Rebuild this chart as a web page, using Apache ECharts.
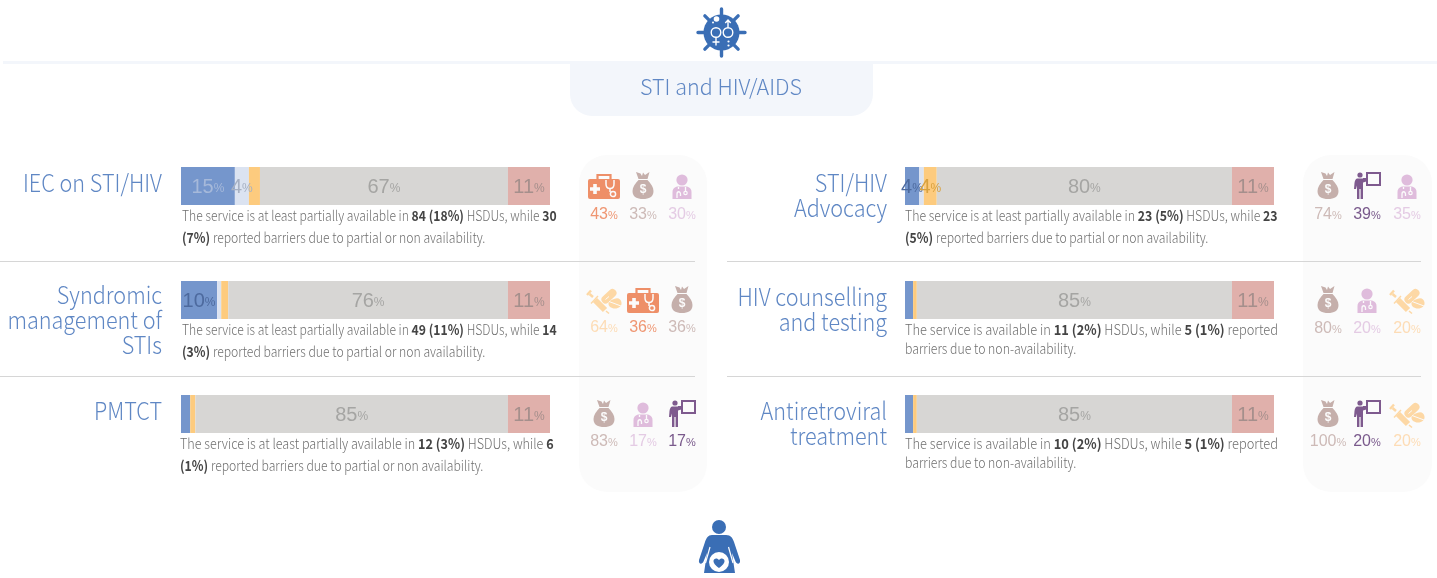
<!DOCTYPE html>
<html>
<head>
<meta charset="utf-8">
<script src="https://cdn.jsdelivr.net/npm/echarts@6/dist/echarts.min.js"></script>
<style>html,body{margin:0;padding:0;background:#fff}#c{width:1437px;height:578px}</style>
</head>
<body>
<div id="c"></div>
<script>
const heading = 'STI and HIV/AIDS';
const categories = [
  'IEC on STI/HIV',
  'Syndromic\nmanagement of\nSTIs',
  'PMTCT',
  'STI/HIV\nAdvocacy',
  'HIV counselling\nand testing',
  'Antiretroviral\ntreatment'
];
// Share of HSDUs in each availability class
const fullyAvailable     = [14.6, 9.8, 2.5, 3.8, 2.2, 2.2];
const partiallyAvailable = [3.8, 1.1, 0, 1.3, 0, 0];
const barrierReported    = [3, 1.9, 1.4, 3.5, 1, 1];
const notAvailable       = [67.2, 75.8, 84.7, 80, 85.4, 85.4];
const noData             = [11.4, 11.4, 11.4, 11.4, 11.4, 11.4];
const descriptions = [
  ['The service is at least partially available in **84 (18%)** HSDUs, while **30**', '**(7%)** reported barriers due to partial or non availability.'],
  ['The service is at least partially available in **49 (11%)** HSDUs, while **14**', '**(3%)** reported barriers due to partial or non availability.'],
  ['The service is at least partially available in **12 (3%)** HSDUs, while **6**', '**(1%)** reported barriers due to partial or non availability.'],
  ['The service is at least partially available in **23 (5%)** HSDUs, while **23**', '**(5%)** reported barriers due to partial or non availability.'],
  ['The service is available in **11 (2%)** HSDUs, while **5 (1%)** reported', 'barriers due to non-availability.'],
  ['The service is available in **10 (2%)** HSDUs, while **5 (1%)** reported', 'barriers due to non-availability.']
];
const barrierKinds = [
  ['kit', 'bag', 'doctor'],
  ['drug', 'kit', 'bag'],
  ['bag', 'doctor', 'teacher'],
  ['bag', 'teacher', 'doctor'],
  ['bag', 'doctor', 'drug'],
  ['bag', 'teacher', 'drug']
];
const barrierValues = [
  [43, 33, 30],
  [64, 36, 36],
  [83, 17, 17],
  [74, 39, 35],
  [80, 20, 20],
  [100, 20, 20]
];

// ---- layout & styles ----
const FONT = '"Noto Sans CJK SC","Noto Sans",sans-serif';
const NUM = '"Liberation Sans",Arial,sans-serif';
const rowY = [167, 281, 395, 167, 281, 395];
const barX = [181, 181, 181, 905, 905, 905];
const labelRight = [162, 162, 162, 887, 887, 887];
const labelY = [183, 295, 411, 183, 297, 411];
const descX = [182, 182, 180, 905, 905, 905];
const descY = [[216, 238], [330, 352], [444, 466], [216, 238], [330, 349], [444, 463]];
const descStretch = [[0.868, 0.872], [0.868, 0.872], [0.9, 0.872], [0.88, 0.872], [0.919, 0.875], [0.919, 0.875]];
const iconX = [[604, 643, 682], [604, 643, 682], [604, 643, 682], [1328, 1367, 1407], [1328, 1367, 1407], [1328, 1367, 1407]];
const iconBase = [172, 286, 400, 172, 286, 400];
const pctY = [215, 328, 442, 215, 329, 442];
const segColors = ['#7596cc', '#dbe3f1', '#fdcb7e', '#d7d6d4', '#e0b0ab'];
const labelColors = [
  ['#a6b9da', '#a6b0c2', '#d8a13f', '#a5a5a3', '#a58f8c'],
  ['#4d6a9e', '#a6b0c2', '#d8a13f', '#a5a5a3', '#a58f8c'],
  ['#4d6a9e', '#a6b0c2', '#d8a13f', '#a5a5a3', '#a58f8c'],
  ['#4d6a9e', '#a6b0c2', '#d8a13f', '#a5a5a3', '#a58f8c'],
  ['#4d6a9e', '#a6b0c2', '#d8a13f', '#a5a5a3', '#a58f8c'],
  ['#4d6a9e', '#a6b0c2', '#d8a13f', '#a5a5a3', '#a58f8c']
];
const iconColor = {kit: '#ee8f68', bag: '#c5afab', doctor: '#dfbcdc', teacher: '#7e5a8e', drug: '#fdd8a5'};
const pctColor = {kit: '#ef9672', bag: '#cdbab7', doctor: '#e4cbe4', teacher: '#7a5a8c', drug: '#fddcb5'};
const PANEL = '#fbfbfb';

// ---- bars ----
const grids = [], xAxes = [], yAxes = [], series = [];
const segs = [fullyAvailable, partiallyAvailable, barrierReported, notAvailable, noData];
const segNames = ['Available', 'Partially available', 'Barriers', 'Not available', 'No data'];
categories.forEach((cat, r) => {
  grids.push({left: barX[r], top: rowY[r], width: 369, height: 38});
  xAxes.push({gridIndex: r, type: 'value', min: 0, max: 100, show: false});
  yAxes.push({gridIndex: r, type: 'category', data: [cat.replace(/\n/g, ' ')], show: false});
  segs.forEach((arr, s) => {
    series.push({
      type: 'bar', name: segNames[s], stack: 'r' + r, xAxisIndex: r, yAxisIndex: r,
      barWidth: '100%', silent: true, animation: false,
      itemStyle: {color: segColors[s]},
      data: [arr[r]],
      label: {
        show: arr[r] >= 3.5, position: 'inside', offset: [0, 1],
        formatter: p => '{n|' + Math.round(p.value) + '}{p|%}',
        rich: {
          n: {fontFamily: NUM, fontSize: 20, color: labelColors[r][s]},
          p: {fontFamily: NUM, fontSize: 12, color: labelColors[r][s], padding: [3, 0, 0, 0]}
        }
      }
    });
  });
});

// ---- decorative shapes ----
const circ = (x, y, r) => `M${x - r} ${y}A${r} ${r} 0 1 0 ${x + r} ${y}A${r} ${r} 0 1 0 ${x - r} ${y}Z`;
const P = (d, fill) => ({type: 'path', shape: {pathData: d}, style: {fill}});
const S = (d, stroke, w, cap) => ({type: 'path', shape: {pathData: d}, style: {fill: 'none', stroke, lineWidth: w, lineCap: cap || 'butt'}});

const iconParts = {
  kit(c) { return [
    P('M-14 7H14Q16 7 16 9V25Q16 27 14 27H-14Q-16 27 -16 25V9Q-16 7 -14 7Z', c),
    S('M-6.5 7V3H6.5V7', c, 2.2),
    S('M-14 17H-4M-9 12V22', PANEL, 3.6),
    S('M2 8V12C2 18 10 18 10 12V8', PANEL, 1.5),
    S('M6 16V20', PANEL, 1.5),
    S(circ(9, 22, 2.6), PANEL, 1.5)
  ]; },
  bag(c) { return [
    P('M-7 0L-2.5 1.5L-1 4L0 0.5L2 3L6.5 0L4.5 7H-4.5Z', c),
    P('M-4.5 8H4.5C8 12 10.5 15 10.5 19C10.5 25 6 27 0 27C-6 27 -10.5 25 -10.5 19C-10.5 15 -8 12 -4.5 8Z', c),
    {type: 'text', style: {text: '$', x: 0, y: 17.5, align: 'center', verticalAlign: 'middle', fill: PANEL, font: 'bold 12px ' + NUM}}
  ]; },
  doctor(c) { return [
    P(circ(0, 8, 5.6), c),
    P('M-9.5 27V20C-9.5 16 -6 14.5 -4 14.5H4C6 14.5 9.5 16 9.5 20V27Z', c),
    S('M-3.5 15V17M-5 26V22C-5 19 -1.5 19 -1.5 22V24', PANEL, 1.3),
    S('M3.5 15V19', PANEL, 1.3),
    S(circ(3.5, 21, 1.7), PANEL, 1.2)
  ]; },
  teacher(c) { return [
    S('M0 1H13V13H0Z', c, 2),
    S('M0 7H-4', c, 2),
    P(circ(-7, 3, 2.6), c),
    P('M-10 6.5H-4L1 6V9L-4 10.5V27H-6.4V17H-7.6V27H-10V13.5L-11 17H-13L-12.5 11Q-12 7 -10 6.5Z', c)
  ]; },
  drug(c) { return [
    S('M-9 14L1 24', c, 6),
    S('M2 25L5 27.5', c, 1.6),
    S('M-11 11L-14.5 8', c, 2.5),
    S('M-17 9L-13 4.5', c, 2.4),
    S('M-13 17.5L-6 10', c, 1.4),
    S('M1.5 13.5L8.5 7', c, 8, 'round'),
    S('M5 10.5L1.5 13.5', PANEL, 1),
    P('M10 13C14 11 17 13 17.5 16.5C18 20 15 22.5 11 22.5C7 22.5 4 20 4.5 17C5 15 7 14 10 13Z', c),
    S('M5 15.5L17 20', PANEL, 1)
  ]; }
};

const pictos = [];
const virusArms = [0, 1, 2, 3, 4, 5, 6, 7].map(i => {
  const a = i * Math.PI / 4, c = Math.cos(a), s = Math.sin(a);
  return `M${(14 * c).toFixed(2)} ${(14 * s).toFixed(2)}L${(23.5 * c).toFixed(2)} ${(23.5 * s).toFixed(2)}`;
}).join('');
pictos.push({type: 'group', x: 721.5, y: 32.5, children: [
  P(circ(0, 0, 18), '#3a6eb5'),
  S(virusArms, '#3a6eb5', 3.4, 'round'),
  S(circ(-5.5, 0, 4.8), '#fff', 1.4),
  S('M-5.5 5V13M-9 9.5H-2', '#fff', 1.4),
  S(circ(6.5, 0, 4.8), '#fff', 1.4),
  S('M6.5 -5V-12M3.8 -9.5L6.5 -12.5L9.2 -9.5', '#fff', 1.4),
  P(circ(-5, -13.5, 2.8), '#fff'),
  P(circ(-8.5, -10, 1), '#fff'),
  P(circ(7, 9, 1.1), '#fff'),
  P(circ(7, 13, 1.1), '#fff')
]});
const blue2 = '#3a6eb5';
pictos.push({type: 'group', x: 699, y: 520, children: [
  P(circ(20, 7, 7), blue2),
  P('M13 15H27C32 15 33.5 18 35 22L41 40C41.8 44 38 45 36.5 41.5L33 33L36 53H5L8 33L4.5 41.5C3 45 -0.8 44 0 40L6 22C7.5 18 9 15 13 15Z', blue2),
  S('M11 27L6.5 43', '#fff', 1.2),
  S('M29.5 27L34 43', '#fff', 1.2),
  P(circ(20, 42, 10), '#fff'),
  P('M20 48C16 45 14.5 43 14.5 41C14.5 38 18.5 37.5 20 40C21.5 37.5 25.5 38 25.5 41C25.5 43 24 45 20 48Z', blue2)
]});
barrierKinds.forEach((kinds, r) => kinds.forEach((k, i) => {
  pictos.push({type: 'group', x: iconX[r][i], y: iconBase[r], children: iconParts[k](iconColor[k])});
}));
series.push({
  type: 'custom', coordinateSystem: 'none', silent: true, animation: false,
  data: pictos.map((_, i) => i), clip: false,
  renderItem: params => pictos[params.dataIndex]
});

// ---- text ----
function richLine(line) {
  return line.split('**').map((t, i) => t === '' ? '' : (i % 2 ? '{b|' + t + '}' : '{t|' + t + '}')).join('');
}
const graphics = [];
graphics.push({type: 'rect', silent: true, shape: {x: 3, y: 61, width: 1434, height: 3}, style: {fill: '#f3f6fb'}});
graphics.push({type: 'rect', silent: true, shape: {x: 570, y: 61, width: 303, height: 55, r: [0, 0, 22, 22]}, style: {fill: '#f3f6fb'}});
graphics.push({type: 'text', silent: true, style: {text: heading, x: 721, y: 87, align: 'center', verticalAlign: 'middle', fill: '#5f87c4', font: '300 21.5px ' + FONT}});
[579, 1303].forEach(x => graphics.push({type: 'rect', silent: true, shape: {x, y: 155, width: x === 579 ? 128 : 129, height: 337, r: 28}, style: {fill: PANEL}}));
[[0, 695], [727, 1421]].forEach(([a, b]) => [261, 376].forEach(y =>
  graphics.push({type: 'rect', silent: true, shape: {x: a, y, width: b - a, height: 1}, style: {fill: '#d6d6d6'}})));

categories.forEach((cat, r) => {
  cat.split('\n').forEach((ln, i) => graphics.push({type: 'text', silent: true, x: labelRight[r], y: labelY[r] + i * 25, scaleX: 0.9, style: {
    text: ln, x: 0, y: 0, align: 'right', verticalAlign: 'middle', fill: '#5f87c4', font: '300 24px ' + FONT
  }}));
  descriptions[r].forEach((ln, i) => graphics.push({type: 'text', silent: true, x: descX[r], y: descY[r][i], scaleX: descStretch[r][i], style: {
    text: richLine(ln), x: 0, y: 0, verticalAlign: 'middle', align: 'left',
    rich: {
      t: {fontFamily: FONT, fontWeight: 300, fontSize: 14, fill: '#6f6f6f', color: '#6f6f6f'},
      b: {fontFamily: FONT, fontWeight: 700, fontSize: 14, fill: '#444', color: '#444'}
    }
  }}));
  barrierKinds[r].forEach((k, i) => {
    graphics.push({type: 'text', silent: true, style: {
      text: '{n|' + barrierValues[r][i] + '}{p|%}', x: iconX[r][i], y: pctY[r], align: 'center', verticalAlign: 'middle',
      rich: {
        n: {fontFamily: NUM, fontSize: 16, fill: pctColor[k], color: pctColor[k]},
        p: {fontFamily: NUM, fontSize: 11, fill: pctColor[k], color: pctColor[k], padding: [2, 0, 0, 0]}
      }
    }});
  });
});

const chart = echarts.init(document.getElementById('c'), null, {renderer: 'canvas'});
chart.setOption({
  animation: false,
  backgroundColor: '#fff',
  grid: grids, xAxis: xAxes, yAxis: yAxes, series,
  graphic: {elements: graphics}
});
</script>
</body>
</html>
